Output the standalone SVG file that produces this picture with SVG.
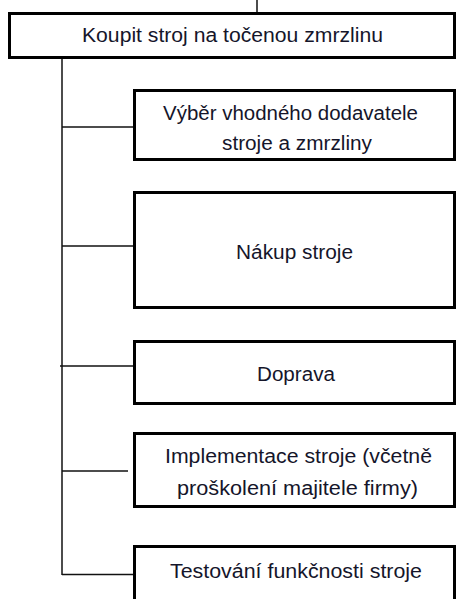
<svg xmlns="http://www.w3.org/2000/svg" width="456" height="599" viewBox="0 0 456 599">
<style>
.box{fill:#fff;stroke:#000;stroke-width:3}
.t{font-family:"Liberation Sans",Arial,sans-serif;font-size:20px;fill:#15152a;text-anchor:middle}
.c{stroke:#111;stroke-width:1.5;fill:none}
</style>
<rect width="456" height="599" fill="#fff"/>
<g id="connectors">
<line class="c" x1="257" y1="0" x2="257" y2="13"/>
<line class="c" x1="62" y1="59" x2="62" y2="575"/>
<line class="c" x1="62" y1="127" x2="134" y2="127"/>
<line class="c" x1="62" y1="246" x2="134" y2="246"/>
<line class="c" x1="60" y1="366" x2="134" y2="366"/>
<line class="c" x1="62" y1="471" x2="128" y2="471"/>
<line class="c" x1="62" y1="574.5" x2="134" y2="574.5"/>
</g>
<g id="root">
<rect class="box" x="9.5" y="13.5" width="445" height="44"/>
<text class="t" x="232.5" y="42" textLength="301" lengthAdjust="spacingAndGlyphs">Koupit stroj na točenou zmrzlinu</text>
</g>
<g id="n1">
<rect class="box" x="134.5" y="90.5" width="320" height="69"/>
<text class="t" x="290.5" y="120" textLength="255" lengthAdjust="spacingAndGlyphs">Výběr vhodného dodavatele</text>
<text class="t" x="297" y="150" textLength="150" lengthAdjust="spacingAndGlyphs">stroje a zmrzliny</text>
</g>
<g id="n2">
<rect class="box" x="134.5" y="192.5" width="320" height="115"/>
<text class="t" x="294.5" y="259" textLength="117" lengthAdjust="spacingAndGlyphs">Nákup stroje</text>
</g>
<g id="n3">
<rect class="box" x="134.5" y="341.5" width="320" height="62"/>
<text class="t" x="296" y="381" textLength="78" lengthAdjust="spacingAndGlyphs">Doprava</text>
</g>
<g id="n4">
<rect class="box" x="134.5" y="433.5" width="320" height="73"/>
<text class="t" x="298.5" y="463" textLength="267" lengthAdjust="spacingAndGlyphs">Implementace stroje (včetně</text>
<text class="t" x="297.5" y="495" textLength="241" lengthAdjust="spacingAndGlyphs">proškolení majitele firmy)</text>
</g>
<g id="n5">
<rect class="box" x="134.5" y="546.5" width="320" height="70"/>
<text class="t" x="296" y="578" textLength="252" lengthAdjust="spacingAndGlyphs">Testování funkčnosti stroje</text>
</g>
</svg>
